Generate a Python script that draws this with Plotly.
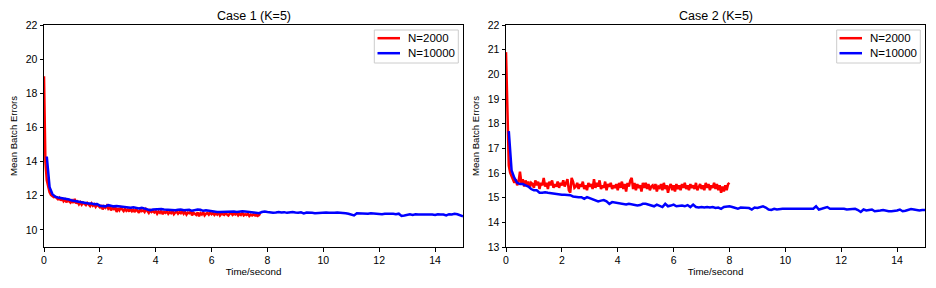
import numpy as np
import plotly.graph_objects as go

# ---------------- data ----------------
# Case 1, N=2000 : time step 0.05 s from 0 to 7.75 s
c1_red_t0, c1_red_dt = 0.0, 0.05
c1_red = [
    19.0, 14.0, 12.9, 12.45, 12.2, 12.05, 11.98, 11.92, 11.95, 11.85,
    11.8, 11.88, 11.72, 11.85, 11.68, 11.78, 11.62, 11.75, 11.7, 11.6,
    11.72, 11.58, 11.82, 11.55, 11.65, 11.5, 11.62, 11.48, 11.6, 11.52,
    11.45, 11.58, 11.5, 11.4, 11.55, 11.42, 11.5, 11.35, 11.48, 11.4,
    11.32, 11.45, 11.2, 11.38, 11.3, 11.42, 11.25, 11.35, 11.15, 11.3,
    11.22, 11.35, 11.05, 11.28, 11.15, 11.3, 11.2, 11.1, 11.25, 11.12,
    11.2, 11.08, 11.25, 11.1, 11.18, 11.05, 11.22, 11.12, 11.0, 11.2,
    11.1, 11.15, 11.05, 11.22, 11.08, 11.0, 11.15, 11.05, 11.12, 11.02,
    11.1, 10.95, 11.08, 11.0, 11.12, 10.92, 11.05, 11.0, 11.1, 10.95,
    11.05, 10.98, 11.1, 10.92, 11.02, 11.08, 10.95, 11.05, 10.98, 11.1,
    10.95, 11.05, 10.9, 11.02, 10.98, 11.08, 10.85, 11.0, 10.95, 10.88,
    11.02, 10.8, 10.98, 10.9, 11.05, 10.85, 10.95, 11.0, 10.9, 11.02,
    10.92, 11.0, 10.88, 10.98, 10.9, 11.02, 10.85, 10.95, 10.92, 10.88,
    10.98, 10.9, 10.85, 10.95, 11.0, 10.88, 10.95, 10.9, 10.98, 10.85,
    10.95, 10.88, 11.0, 10.85, 10.92, 10.88, 10.95, 10.82, 10.9, 10.85,
    10.92, 10.85, 10.88, 10.82, 10.9, 10.86,
]

# Case 1, N=10000 : time step 0.1 s from 0.1 to 15.0 s
c1_blue_t0, c1_blue_dt = 0.1, 0.1
c1_blue = [
    14.3, 12.5, 12.1, 11.95, 11.9, 11.88, 11.85, 11.8, 11.78, 11.72,
    11.7, 11.68, 11.62, 11.6, 11.58, 11.55, 11.55, 11.5, 11.52, 11.42,
    11.4, 11.38, 11.45, 11.42, 11.38, 11.4, 11.38, 11.35, 11.32, 11.3,
    11.3, 11.32, 11.28, 11.26, 11.3, 11.25, 11.2, 11.15, 11.2, 11.22,
    11.2, 11.22, 11.2, 11.18, 11.2, 11.18, 11.15, 11.18, 11.2, 11.15,
    11.15, 11.18, 11.12, 11.15, 11.2, 11.18, 11.12, 11.15, 11.12, 11.08,
    11.06, 11.05, 11.05, 11.06, 11.04, 11.08, 11.1, 11.08, 11.05, 11.08,
    11.1, 11.08, 11.06, 11.05, 11.02, 11.0, 10.98, 11.05, 11.08, 11.05,
    11.02, 11.0, 11.02, 11.05, 11.02, 11.04, 11.0, 11.03, 11.05, 11.02,
    11.0, 11.03, 10.97, 11.02, 11.03, 11.0, 10.98, 11.0, 11.0, 11.0,
    11.02, 11.0, 10.98, 11.0, 11.02, 11.02, 11.0, 10.98, 10.95, 10.92,
    10.85, 10.98, 10.97, 10.95, 10.92, 10.95, 10.98, 10.96, 10.94, 10.95,
    10.92, 10.95, 10.93, 10.95, 10.94, 10.92, 10.95, 10.82, 10.85, 10.9,
    10.92, 10.88, 10.92, 10.9, 10.92, 10.91, 10.9, 10.92, 10.9, 10.88,
    10.92, 10.9, 10.9, 10.85, 10.92, 10.9, 10.95, 10.92, 10.85, 10.8,
]

# Case 2, N=2000 : time step 0.05 s from 0 to 8.0 s
c2_red_t0, c2_red_dt = 0.0, 0.05
c2_red = [
    20.9, 18.0, 16.3, 16.0, 15.85, 15.7, 15.6, 15.75, 15.5, 15.65,
    16.05, 15.6, 15.75, 15.45, 15.7, 15.5, 15.65, 15.4, 15.6, 15.55,
    15.4, 15.7, 15.5, 15.65, 15.35, 15.6, 15.5, 15.8, 15.45, 15.6,
    15.35, 15.65, 15.5, 15.7, 15.4, 15.55, 15.45, 15.65, 15.4, 15.6,
    15.5, 15.7, 15.45, 15.6, 15.75, 15.3, 15.2, 15.8, 15.65, 15.4,
    15.45, 15.6, 15.35, 15.55, 15.45, 15.65, 15.35, 15.5, 15.3, 15.6,
    15.45, 15.55, 15.35, 15.75, 15.4, 15.6, 15.45, 15.7, 15.35, 15.5,
    15.4, 15.65, 15.3, 15.55, 15.45, 15.6, 15.35, 15.5, 15.4, 15.55,
    15.3, 15.6, 15.4, 15.65, 15.35, 15.55, 15.25, 15.6, 15.45, 15.7,
    15.8, 15.35, 15.6, 15.3, 15.55, 15.4, 15.5, 15.25, 15.6, 15.4,
    15.6, 15.35, 15.55, 15.3, 15.45, 15.5, 15.35, 15.55, 15.25, 15.45,
    15.4, 15.55, 15.3, 15.6, 15.35, 15.5, 15.2, 15.45, 15.55, 15.3,
    15.5, 15.25, 15.55, 15.35, 15.5, 15.3, 15.55, 15.4, 15.6, 15.35,
    15.5, 15.3, 15.55, 15.4, 15.5, 15.35, 15.6, 15.3, 15.45, 15.55,
    15.35, 15.5, 15.3, 15.6, 15.4, 15.55, 15.3, 15.5, 15.4, 15.6,
    15.35, 15.55, 15.3, 15.5, 15.2, 15.45, 15.25, 15.5, 15.3, 15.55,
    15.6,
]

# Case 2, N=10000 : time step 0.1 s from 0.1 to 15.0 s
c2_blue_t0, c2_blue_dt = 0.1, 0.1
c2_blue = [
    17.7, 16.1, 15.8, 15.6, 15.55, 15.55, 15.5, 15.45, 15.35, 15.3,
    15.3, 15.2, 15.2, 15.22, 15.2, 15.18, 15.15, 15.15, 15.12, 15.12,
    15.12, 15.12, 15.1, 15.05, 15.02, 15.02, 15.02, 14.95, 15.02, 14.98,
    14.95, 14.9, 14.85, 14.88, 14.9, 14.85, 14.75, 14.82, 14.8, 14.8,
    14.78, 14.75, 14.72, 14.75, 14.72, 14.7, 14.68, 14.7, 14.75, 14.75,
    14.72, 14.7, 14.65, 14.72, 14.68, 14.62, 14.75, 14.65, 14.68, 14.72,
    14.65, 14.66, 14.68, 14.65, 14.7, 14.62, 14.72, 14.62, 14.6, 14.62,
    14.6, 14.62, 14.6, 14.62, 14.58, 14.6, 14.55, 14.62, 14.65, 14.65,
    14.62, 14.6, 14.55, 14.6, 14.6, 14.58, 14.58, 14.52, 14.6, 14.58,
    14.62, 14.65, 14.6, 14.52, 14.5, 14.55, 14.52, 14.55, 14.55, 14.55,
    14.55, 14.52, 14.52, 14.55, 14.53, 14.52, 14.53, 14.55, 14.52, 14.55,
    14.65, 14.52, 14.55, 14.58, 14.62, 14.55, 14.55, 14.58, 14.55, 14.58,
    14.55, 14.52, 14.53, 14.52, 14.55, 14.5, 14.42, 14.52, 14.48, 14.5,
    14.52, 14.45, 14.48, 14.48, 14.5, 14.47, 14.45, 14.45, 14.46, 14.48,
    14.52, 14.45, 14.47, 14.5, 14.54, 14.52, 14.5, 14.48, 14.5, 14.5,
]

titles = ["Case 1 (K=5)", "Case 2 (K=5)"]
series_names = ["N=2000", "N=10000"]
x_label = "Time/second"
y_label = "Mean Batch Errors"


def times(t0, dt, vals):
    return np.round(t0 + dt * np.arange(len(vals)), 4)


FONT = "Liberation Sans, Arial, sans-serif"
RED = "#ff0000"
BLUE = "#0000ff"
COLORS = [RED, BLUE]
LW = 2.5

fig = go.Figure()

panels = [
    ("x", "y", [(c1_red_t0, c1_red_dt, c1_red), (c1_blue_t0, c1_blue_dt, c1_blue)]),
    ("x2", "y2", [(c2_red_t0, c2_red_dt, c2_red), (c2_blue_t0, c2_blue_dt, c2_blue)]),
]
for xa, ya, series in panels:
    for (t0, dt, vals), name, col in zip(series, series_names, COLORS):
        fig.add_trace(go.Scatter(x=times(t0, dt, vals), y=vals, mode="lines", name=name,
                                 line=dict(color=col, width=LW), xaxis=xa, yaxis=ya,
                                 showlegend=False, hoverinfo="skip"))

W, H = 936, 288
ydom = [1 - 247 / H, 1 - 25 / H]
xdom1 = [44 / W, 463 / W]
xdom2 = [506 / W, 925 / W]

axis_common = dict(showline=True, linecolor="black", linewidth=1, mirror=True,
                   ticks="outside", ticklen=3.5, tickcolor="black", tickwidth=1,
                   showgrid=False, zeroline=False, automargin=False,
                   tickfont=dict(family=FONT, size=10.5, color="black"))

# matplotlib-style legend boxes (pixel positions -> paper)
shapes = []
annotations = []
legend_boxes = [(374.3, 458.3, 377.5, 400.0, 406.0), (836.7, 920.3, 839.5, 862.0, 868.0)]
for (bx0, bx1, lx0, lx1, tx) in legend_boxes:
    shapes.append(dict(type="rect", xref="paper", yref="paper",
                       x0=bx0 / W, x1=bx1 / W, y0=1 - 63 / H, y1=1 - 30 / H,
                       line=dict(color="#cccccc", width=1), fillcolor="white", layer="above"))
    for k, (name, col) in enumerate(zip(series_names, COLORS)):
        yy = 38.2 + 15 * k
        shapes.append(dict(type="line", xref="paper", yref="paper",
                           x0=lx0 / W, x1=lx1 / W, y0=1 - yy / H, y1=1 - yy / H,
                           line=dict(color=col, width=LW), layer="above"))
        annotations.append(dict(text=name, x=tx / W, y=1 - yy / H, xref="paper", yref="paper",
                                showarrow=False, xanchor="left", yanchor="middle",
                                font=dict(size=11.5, family=FONT, color="black")))

for t, dom in zip(titles, [xdom1, xdom2]):
    annotations.append(dict(text=t, x=(dom[0] + dom[1]) / 2, y=1 - 16 / H, xref="paper", yref="paper",
                            showarrow=False, xanchor="center", yanchor="middle",
                            font=dict(size=12.5, family=FONT, color="black")))

fig.update_layout(
    width=W, height=H,
    margin=dict(l=0, r=0, t=0, b=0, autoexpand=False),
    paper_bgcolor="white", plot_bgcolor="white",
    font=dict(family=FONT, color="black"),
    showlegend=False,
    xaxis=dict(domain=xdom1, anchor="y", range=[0, 15], dtick=2, tick0=0,
               title=dict(text=x_label, font=dict(size=9.8, family=FONT), standoff=2),
               **axis_common),
    yaxis=dict(domain=ydom, anchor="x", range=[9, 22], tickvals=[10, 12, 14, 16, 18, 20, 22],
               title=dict(text=y_label, font=dict(size=9.6, family=FONT), standoff=6),
               **axis_common),
    xaxis2=dict(domain=xdom2, anchor="y2", range=[0, 15], dtick=2, tick0=0,
                title=dict(text=x_label, font=dict(size=9.8, family=FONT), standoff=2),
                **axis_common),
    yaxis2=dict(domain=ydom, anchor="x2", range=[13, 22], dtick=1, tick0=13,
                title=dict(text=y_label, font=dict(size=9.6, family=FONT), standoff=6),
                **axis_common),
    shapes=shapes,
    annotations=annotations,
)

fig.write_html("out.html", config={"displayModeBar": False},
               post_script="document.body.style.margin='0';")
